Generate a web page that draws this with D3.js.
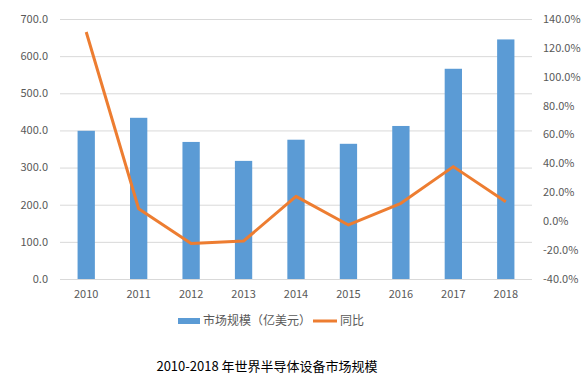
<!DOCTYPE html>
<html>
<head>
<meta charset="utf-8">
<script src="https://cdn.jsdelivr.net/npm/d3@7"></script>
<style>
  body { margin: 0; background: #fff; }
  text { font-family: "Noto Sans CJK SC", "Open Sans", sans-serif; }
</style>
</head>
<body>
<div id="chart"></div>
<script>
const years = ['2010', '2011', '2012', '2013', '2014', '2015', '2016', '2017', '2018'];
const marketSize = [399, 434, 369, 318, 375, 364, 412, 566, 645];
const yoy = [131, 8.6, -15.5, -13.7, 17.2, -2.6, 12.4, 37.8, 13.5];
const leftTicks = [0, 100, 200, 300, 400, 500, 600, 700];
const rightTicks = [-40, -20, 0, 20, 40, 60, 80, 100, 120, 140];

const width = 587;
const height = 377;
const margin = { top: 19, right: 55, bottom: 98, left: 60 };

const svg = d3.select('#chart')
  .append('svg')
  .attr('width', width)
  .attr('height', height);

const x = d3.scaleBand()
  .domain(years)
  .range([margin.left, width - margin.right]);

const yLeft = d3.scaleLinear()
  .domain([0, 700])
  .range([height - margin.bottom, margin.top]);

const yRight = d3.scaleLinear()
  .domain([-40, 140])
  .range([height - margin.bottom, margin.top]);

// gridlines
svg.append('g')
  .selectAll('line')
  .data(leftTicks)
  .enter()
  .append('line')
  .attr('x1', margin.left)
  .attr('x2', width - margin.right)
  .attr('y1', (d) => yLeft(d) + 0.5)
  .attr('y2', (d) => yLeft(d) + 0.5)
  .style('stroke', '#d9d9d9')
  .style('stroke-width', 1);

// left axis labels
svg.append('g')
  .selectAll('text')
  .data(leftTicks)
  .enter()
  .append('text')
  .attr('x', 48)
  .attr('y', (d) => yLeft(d))
  .attr('dy', '0.35em')
  .attr('text-anchor', 'end')
  .style('font-size', '11px')
  .style('fill', '#595959')
  .text((d) => d.toFixed(1));

// right axis labels
svg.append('g')
  .selectAll('text')
  .data(rightTicks)
  .enter()
  .append('text')
  .attr('x', 543)
  .attr('y', (d) => yRight(d))
  .attr('dy', '0.35em')
  .attr('text-anchor', 'start')
  .style('font-size', '11px')
  .style('fill', '#595959')
  .text((d) => `${d.toFixed(1)}%`);

// x labels
svg.append('g')
  .selectAll('text')
  .data(years)
  .enter()
  .append('text')
  .attr('x', (d) => x(d) + x.bandwidth() / 2)
  .attr('y', height - margin.bottom + 15)
  .attr('dy', '0.35em')
  .attr('text-anchor', 'middle')
  .style('font-size', '11px')
  .style('fill', '#595959')
  .text((d) => d);

// bars
const barWidth = x.bandwidth() * 0.33;
svg.append('g')
  .selectAll('rect')
  .data(marketSize)
  .enter()
  .append('rect')
  .attr('x', (d, i) => x(years[i]) + (x.bandwidth() - barWidth) / 2)
  .attr('y', (d) => yLeft(d))
  .attr('width', barWidth)
  .attr('height', (d) => yLeft(0) - yLeft(d))
  .style('fill', '#5b9bd5');

// line
const line = d3.line()
  .x((d, i) => x(years[i]) + x.bandwidth() / 2)
  .y((d) => yRight(d));

svg.append('path')
  .datum(yoy)
  .attr('d', line)
  .style('fill', 'none')
  .style('stroke', '#ed7d31')
  .style('stroke-width', 3)
  .style('stroke-linejoin', 'round');

// legend
const legend = svg.append('g');
legend.append('rect')
  .attr('x', 178)
  .attr('y', 318)
  .attr('width', 22)
  .attr('height', 6)
  .style('fill', '#5b9bd5');
legend.append('text')
  .attr('x', 203)
  .attr('y', 321)
  .attr('dy', '0.35em')
  .style('font-size', '12px')
  .style('fill', '#595959')
  .text('市场规模（亿美元）');
legend.append('line')
  .attr('x1', 313)
  .attr('x2', 337)
  .attr('y1', 321)
  .attr('y2', 321)
  .style('stroke', '#ed7d31')
  .style('stroke-width', 3);
legend.append('text')
  .attr('x', 340)
  .attr('y', 321)
  .attr('dy', '0.35em')
  .style('font-size', '12px')
  .style('fill', '#595959')
  .text('同比');

// title
svg.append('text')
  .attr('x', 267)
  .attr('y', 366)
  .attr('dy', '0.35em')
  .attr('text-anchor', 'middle')
  .style('font-size', '13px')
  .style('fill', '#000')
  .text('2010-2018 年世界半导体设备市场规模');
</script>
</body>
</html>
